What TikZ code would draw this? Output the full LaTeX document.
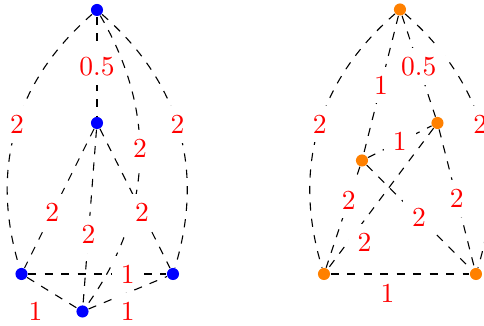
\documentclass[tikz,border=0pt]{standalone}
\begin{document}
\begin{tikzpicture}[
        x=0.3636pt, y=0.3636pt,
        vtx/.style={circle, fill, inner sep=0pt, minimum size=4.4pt},
        edge/.style={dashed},
        wt/.style={text=red, fill=white}
    ]
        \useasboundingbox (0,0) rectangle (484,326);

        % Vertices (left graph)
        \node[vtx, blue] (t) at (97,316) {};
        \node[vtx, blue] (m) at (97,203) {};
        \node[vtx, blue] (l) at (21.5,52) {};
        \node[vtx, blue] (r) at (173,52) {};
        \node[vtx, blue] (b) at (82.5,14.5) {};

        % Edges (left graph)
        \draw[edge] (t) -- node[wt] {0.5} (m);
        \draw[edge] (t) to[bend right=33] node[wt, pos=0.48] {2} (l);
        \draw[edge] (t) to[bend left=33] node[wt, pos=0.48] {2} (r);
        \draw[edge] (t) to[bend left=33] node[wt, pos=0.45] {2} (b);
        \draw[edge] (m) -- node[wt, pos=0.6] {2} (l);
        \draw[edge] (m) -- node[wt, pos=0.6] {2} (b);
        \draw[edge] (m) -- node[wt, pos=0.6] {2} (r);
        \draw[edge] (l) -- node[wt, pos=0.72] {1} (r);
        \draw[edge] (l) -- node[wt, below left] {1} (b);
        \draw[edge] (b) -- node[wt, below] {1} (r);

        % Vertices (right graph)
        \node[vtx, orange] (tt) at (400,316.5) {};
        \node[vtx, orange] (p) at (437.5,203) {};
        \node[vtx, orange] (q) at (362,165.5) {};
        \node[vtx, orange] (bl) at (324,52) {};
        \node[vtx, orange] (br) at (476,52) {};

        % Edges (right graph)
        \draw[edge] (tt) to[bend right=33] node[wt, pos=0.48] {2} (bl);
        \draw[edge] (tt) to[bend left=33] node[wt, pos=0.48] {2} (br);
        \draw[edge] (tt) -- node[wt] {1} (q);
        \draw[edge] (tt) -- node[wt] {0.5} (p);
        \draw[edge] (q) -- node[wt] {1} (p);
        \draw[edge] (q) -- node[wt, pos=0.33] {2} (bl);
        \draw[edge] (q) -- node[wt] {2} (br);
        \draw[edge] (p) -- node[wt, pos=0.81, right] {2} (bl);
        \draw[edge] (p) -- node[wt] {2} (br);
        \draw[edge] (bl) -- node[wt, pos=0.41, below] {1} (br);
    \end{tikzpicture}
\end{document}
